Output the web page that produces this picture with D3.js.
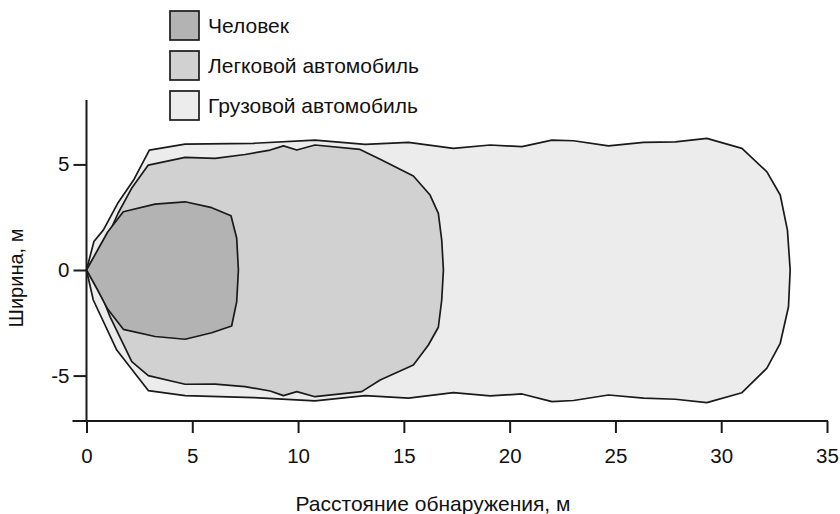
<!DOCTYPE html>
<html>
<head>
<meta charset="utf-8">
<script src="https://cdn.jsdelivr.net/npm/d3@7"></script>
<style>
  body { margin: 0; background: #fff; }
  svg { display: block; font-family: "Liberation Sans", Arial, sans-serif; }
</style>
</head>
<body>
<svg id="chart" width="840" height="514"></svg>
<script>
// zones of detection, [distance, width] in metres
var truck = [
    [0, 0], [0.35, 1.35], [0.8, 1.9], [1.5, 3.2], [2.25, 4.3], [2.97, 5.68],
    [4.66, 5.96], [7.89, 6.0], [10.8, 6.15], [13.17, 5.95], [15.22, 6.04],
    [17.34, 5.76], [19.08, 5.92], [20.58, 5.84], [22.0, 6.15], [23.02, 6.12],
    [24.67, 5.88], [26.33, 6.04], [27.83, 6.07], [29.32, 6.23], [30.98, 5.76],
    [32.16, 4.65], [32.79, 3.55], [33.13, 1.89], [33.26, 0], [33.18, -1.74],
    [32.79, -3.47], [32.16, -4.65], [30.98, -5.81], [29.32, -6.28], [27.83, -6.12],
    [26.33, -6.07], [24.67, -5.92], [23.02, -6.18], [22.0, -6.23], [20.58, -5.87],
    [19.08, -5.96], [17.34, -5.81], [15.22, -6.07], [13.17, -5.95], [10.8, -6.2],
    [7.89, -6.04], [4.66, -5.95], [2.92, -5.71], [1.43, -3.79], [0.32, -1.42]
];

var car = [
    [0, 0], [0.45, 0.75], [1.0, 1.6], [1.5, 2.7], [2.15, 3.9], [2.92, 4.97],
    [4.66, 5.33], [6.08, 5.29], [7.49, 5.47], [8.68, 5.68], [9.31, 5.88],
    [9.94, 5.68], [10.8, 5.92], [12.93, 5.71], [13.88, 5.24], [15.45, 4.45],
    [16.24, 3.55], [16.63, 2.68], [16.79, 1.42], [16.87, 0], [16.79, -1.42],
    [16.63, -2.71], [16.16, -3.55], [15.45, -4.5], [13.88, -5.21], [13.01, -5.76],
    [10.8, -6.0], [9.94, -5.76], [9.31, -5.95], [8.68, -5.73], [7.49, -5.52],
    [6.08, -5.4], [4.66, -5.41], [2.92, -5.0], [2.14, -4.34], [1.11, -2.21],
    [0.56, -0.79]
];

var human = [
    [0, 0], [0.5, 0.9], [1.0, 1.8], [1.74, 2.76], [3.24, 3.12], [4.66, 3.23],
    [5.92, 2.95], [6.83, 2.57], [7.1, 1.5], [7.18, 0], [7.1, -1.5],
    [6.86, -2.65], [5.92, -2.97], [4.66, -3.28], [3.24, -3.15], [1.74, -2.81],
    [1.0, -1.85], [0.5, -0.9]
];

var names = ['Человек', 'Легковой автомобиль', 'Грузовой автомобиль'];
var fills = ['#b3b3b3', '#d1d1d1', '#ececec'];
var xTicks = [0, 5, 10, 15, 20, 25, 30, 35];
var yTicks = [-5, 0, 5];

var svg = d3.select('#chart');

var x = d3.scaleLinear().domain([0, 35]).range([86.5, 827]);
var y = d3.scaleLinear().domain([-7.15, 8.05]).range([421, 100]);

var line = d3.line()
    .x(d => x(d[0]))
    .y(d => y(d[1]))
    .curve(d3.curveLinearClosed);

// biggest first so the smaller zones sit on top
var zones = [
    { pts: truck, fill: fills[2] },
    { pts: car, fill: fills[1] },
    { pts: human, fill: fills[0] },
];

svg.selectAll('path.zone')
    .data(zones)
    .enter().append('path')
        .attr('class', 'zone')
        .attr('d', d => line(d.pts))
        .attr('fill', d => d.fill)
        .attr('stroke', '#1a1a1a')
        .attr('stroke-width', 1.7)
        .attr('stroke-linejoin', 'round');

// axes
var xAxis = svg.append('g')
    .attr('transform', 'translate(0,' + y(-7.15) + ')')
    .call(d3.axisBottom(x).tickValues(xTicks).tickSize(12).tickPadding(15).tickSizeOuter(0));
xAxis.select('.domain').remove();
xAxis.append('line')
    .attr('x1', x(0) - 14).attr('x2', x(35) + 1)
    .attr('stroke', '#1a1a1a').attr('stroke-width', 2);

// plain hyphen for negatives, like the original
var yAxis = svg.append('g')
    .attr('transform', 'translate(' + x(0) + ',0)')
    .call(d3.axisLeft(y).tickValues(yTicks).tickFormat(d => String(d))
        .tickSize(13).tickPadding(4).tickSizeOuter(0));
yAxis.select('.domain').remove();
yAxis.append('line')
    .attr('y1', y(8.05)).attr('y2', y(-7.15))
    .attr('stroke', '#1a1a1a').attr('stroke-width', 2);

svg.selectAll('.tick line').attr('stroke', '#1a1a1a').attr('stroke-width', 2);
svg.selectAll('.tick text')
    .attr('fill', '#111')
    .style('font-size', '20.5px')
    .style('font-family', '"Liberation Sans", Arial, sans-serif');

svg.append('text')
    .attr('x', 433)
    .attr('y', 511)
    .attr('text-anchor', 'middle')
    .style('font-size', '21px')
    .attr('fill', '#111')
    .text('Расстояние обнаружения, м');

svg.append('text')
    .attr('transform', 'translate(23,278) rotate(-90)')
    .attr('text-anchor', 'middle')
    .style('font-size', '20px')
    .attr('fill', '#111')
    .text('Ширина, м');

// legend
var legend = svg.selectAll('g.legend')
    .data(names)
    .enter().append('g')
        .attr('class', 'legend')
        .attr('transform', (d, i) => 'translate(170,' + (11 + i * 40) + ')');

legend.append('rect')
    .attr('width', 29)
    .attr('height', 29)
    .attr('fill', (d, i) => fills[i])
    .attr('stroke', '#1a1a1a')
    .attr('stroke-width', 1.7);

legend.append('text')
    .attr('x', 38)
    .attr('y', 22)
    .style('font-size', '21px')
    .attr('fill', '#111')
    .text(d => d);
</script>
</body>
</html>
